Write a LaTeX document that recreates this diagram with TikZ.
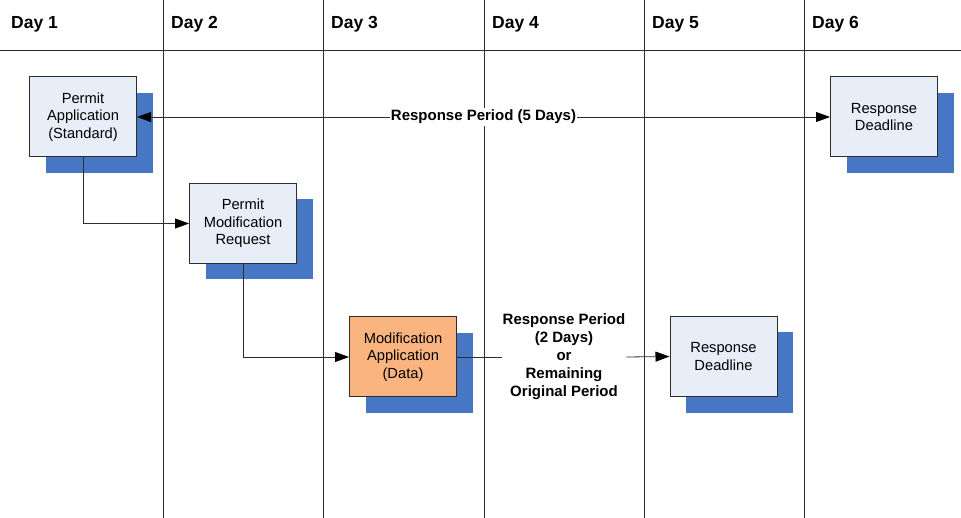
\documentclass[tikz,border=0pt]{standalone}
\usepackage{fontspec}
\setmainfont{Liberation Sans}
\usetikzlibrary{arrows.meta,shadows}
\definecolor{shadowblue}{RGB}{71,118,196}
\definecolor{boxfill}{RGB}{232,238,248}
\definecolor{orangefill}{RGB}{249,180,128}
\definecolor{linegray}{RGB}{45,45,45}
\tikzset{
  stepbox/.style={draw=linegray, line width=1pt, fill=boxfill, minimum width=107pt, minimum height=80pt,
    align=center, inner sep=2pt, font=\fontsize{14.7}{17.5}\selectfont,
    general shadow={shadow xshift=16pt, shadow yshift=-16pt, fill=shadowblue}},
  orangebox/.style={stepbox, fill=orangefill},
  grid/.style={draw=linegray, line width=0.8pt},
  conn/.style={draw=linegray, line width=0.8pt},
  bigtip/.tip={Triangle[length=14pt,width=10pt,fill=black,color=black]},
  tip/.style={-bigtip},
  dayhead/.style={anchor=base west, font=\fontsize{17.5}{18}\selectfont\bfseries, inner sep=0pt},
  periodlabel/.style={font=\fontsize{15}{18}\selectfont\bfseries, fill=white, inner xsep=1pt, inner ysep=2pt, align=center}
}
\begin{document}
\begin{tikzpicture}[x=1pt,y=-1pt]
\useasboundingbox (0,0) rectangle (961,518);
% grid
\draw[grid] (0,50) -- (961,50);
\foreach \xx in {163,323,484,644,804} { \draw[grid] (\xx,0) -- (\xx,518); }
% headers
\node[dayhead] (h1) at (11,29) {Day 1};
\node[dayhead] (h2) at (171,29) {Day 2};
\node[dayhead] (h3) at (331,29) {Day 3};
\node[dayhead] (h4) at (492,29) {Day 4};
\node[dayhead] (h5) at (652,29) {Day 5};
\node[dayhead] (h6) at (812,29) {Day 6};
% boxes
\node[stepbox] (b1) at (83,117) {Permit\\Application\\(Standard)};
\node[stepbox] (b2) at (243,223.5) {Permit\\Modification\\Request};
\node[orangebox] (b3) at (403,357) {Modification\\Application\\(Data)};
\node[stepbox] (b5) at (723.5,356.5) {Response\\Deadline};
\node[stepbox] (b6) at (884,117) {Response\\Deadline};
% connectors
\draw[conn, bigtip-bigtip] (b1.east) -- (b6.west);
\node[periodlabel] (p1) at (483.5,117) {Response Period (5 Days)};
\draw[conn, tip] (b1.south) |- (b2.west);
\draw[conn, tip] (b2.south) |- (b3.west);
\node[periodlabel, fill=none] (p2) at (564,357) {Response Period\\(2 Days)\\or\\Remaining\\Original Period};
\draw[conn] (b3.east) -- (p2.west);
\draw[conn, tip] (p2.east) -- (b5.west);
\end{tikzpicture}
\end{document}
